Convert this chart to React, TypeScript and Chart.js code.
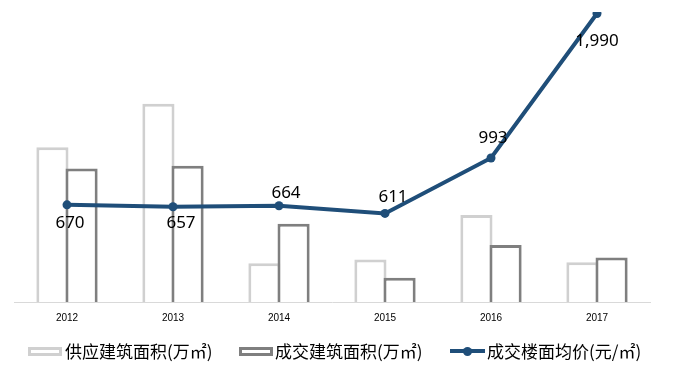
import React, { useEffect, useRef } from "react";
import { Chart, registerables } from "chart.js";

Chart.register(...registerables);

const categories = ["2012", "2013", "2014", "2015", "2016", "2017"];
const supplyArea = [160, 205, 40, 44, 90, 41];
const dealArea = [138, 141, 81, 25, 59, 46];
const avgPrice = [670, 657, 664, 611, 993, 1990];

const seriesNames = ["供应建筑面积(万㎡)", "成交建筑面积(万㎡)", "成交楼面均价(元/㎡)"];

// label offsets (style only): [dx, dy] relative to each point
const labelOffsets: [number, number][] = [
  [3, 18],
  [8, 16],
  [7, -13],
  [8, -16],
  [2, -20],
  [0, 28],
];

const LIGHT = "#D0D0D0";
const DARK = "#7F7F7F";
const LINE = "#1F4E79";

// draw the second bar series on top of the first (they overlap by one border width)
const barOrderPlugin = {
  id: "barOrder",
  beforeDatasetDraw(_chart: any, args: any) {
    if (args.index === 1) return false;
    return true;
  },
  afterDatasetDraw(chart: any, args: any) {
    if (args.index === 0) {
      const meta = chart.getDatasetMeta(1);
      const ctx = chart.ctx;
      ctx.save();
      meta.controller.draw();
      ctx.restore();
    }
  },
};

const labelPlugin = {
  id: "priceLabels",
  afterDatasetsDraw(chart: any) {
    const meta = chart.getDatasetMeta(2);
    const ctx = chart.ctx;
    ctx.save();
    ctx.font = '17px "Noto Sans", sans-serif';
    ctx.fillStyle = "#000";
    ctx.textAlign = "center";
    ctx.textBaseline = "middle";
    meta.data.forEach((pt: any, i: number) => {
      const [dx, dy] = labelOffsets[i];
      ctx.fillText(avgPrice[i].toLocaleString("en-US"), pt.x + dx, pt.y + dy);
    });
    ctx.restore();
  },
};

export default function App() {
  const ref = useRef<HTMLCanvasElement>(null);
  useEffect(() => {
    if (!ref.current) return;
    const chart = new Chart(ref.current, {
      type: "bar",
      data: {
        labels: categories,
        datasets: [
          {
            type: "bar",
            label: seriesNames[0],
            data: supplyArea,
            backgroundColor: "#FFFFFF",
            borderColor: LIGHT,
            borderWidth: 3,
            borderSkipped: "start",
            yAxisID: "y",
            categoryPercentage: 0.55,
            barPercentage: 1.103,
          },
          {
            type: "bar",
            label: seriesNames[1],
            data: dealArea,
            backgroundColor: "#FFFFFF",
            borderColor: DARK,
            borderWidth: 3,
            borderSkipped: "start",
            yAxisID: "y",
            categoryPercentage: 0.55,
            barPercentage: 1.103,
          },
          {
            type: "line",
            label: seriesNames[2],
            data: avgPrice,
            borderColor: LINE,
            backgroundColor: LINE,
            borderWidth: 4,
            pointRadius: 4.5,
            pointBackgroundColor: LINE,
            pointBorderWidth: 0,
            tension: 0,
            yAxisID: "y2",
            order: -1,
          } as any,
        ],
      },
      options: {
        animation: false,
        responsive: false,
        maintainAspectRatio: false,
        layout: { padding: { left: 14, right: 31, top: 12, bottom: 6 } },
        plugins: { legend: { display: false }, tooltip: { enabled: false } },
        scales: {
          x: {
            offset: true,
            grid: { display: false, drawTicks: false },
            border: { display: true, color: "#D9D9D9", width: 1 },
            ticks: {
              padding: 10,
              color: "#000",
              font: { size: 10, family: '"Liberation Sans", Arial, sans-serif' },
            },
          },
          y: { display: false, min: 0, max: 300 },
          y2: { display: false, min: 0, max: 2000 },
        },
      },
      plugins: [barOrderPlugin, labelPlugin],
    });
    return () => chart.destroy();
  }, []);

  const textStyle: React.CSSProperties = {
    position: "absolute",
    top: 340,
    lineHeight: "22px",
    fontSize: 17,
    fontFamily: '"Noto Sans CJK SC", sans-serif',
    color: "#000",
    whiteSpace: "nowrap",
  };

  return (
    <div style={{ position: "absolute", left: 0, top: 0, width: 681, height: 373, background: "#fff" }}>
      <canvas ref={ref} width={681} height={340} style={{ position: "absolute", left: 0, top: 0 }} />
      <div style={{ position: "absolute", left: 28, top: 347, width: 34, height: 9, boxSizing: "border-box", border: `3px solid ${LIGHT}` }} />
      <div style={{ ...textStyle, left: 65 }}>{seriesNames[0]}</div>
      <div style={{ position: "absolute", left: 239, top: 347, width: 34, height: 9, boxSizing: "border-box", border: `3px solid ${DARK}` }} />
      <div style={{ ...textStyle, left: 275 }}>{seriesNames[1]}</div>
      <div style={{ position: "absolute", left: 450, top: 349, width: 35, height: 4, background: LINE }} />
      <div style={{ position: "absolute", left: 463, top: 346.5, width: 9, height: 9, borderRadius: "50%", background: LINE }} />
      <div style={{ ...textStyle, left: 487 }}>{seriesNames[2]}</div>
    </div>
  );
}
